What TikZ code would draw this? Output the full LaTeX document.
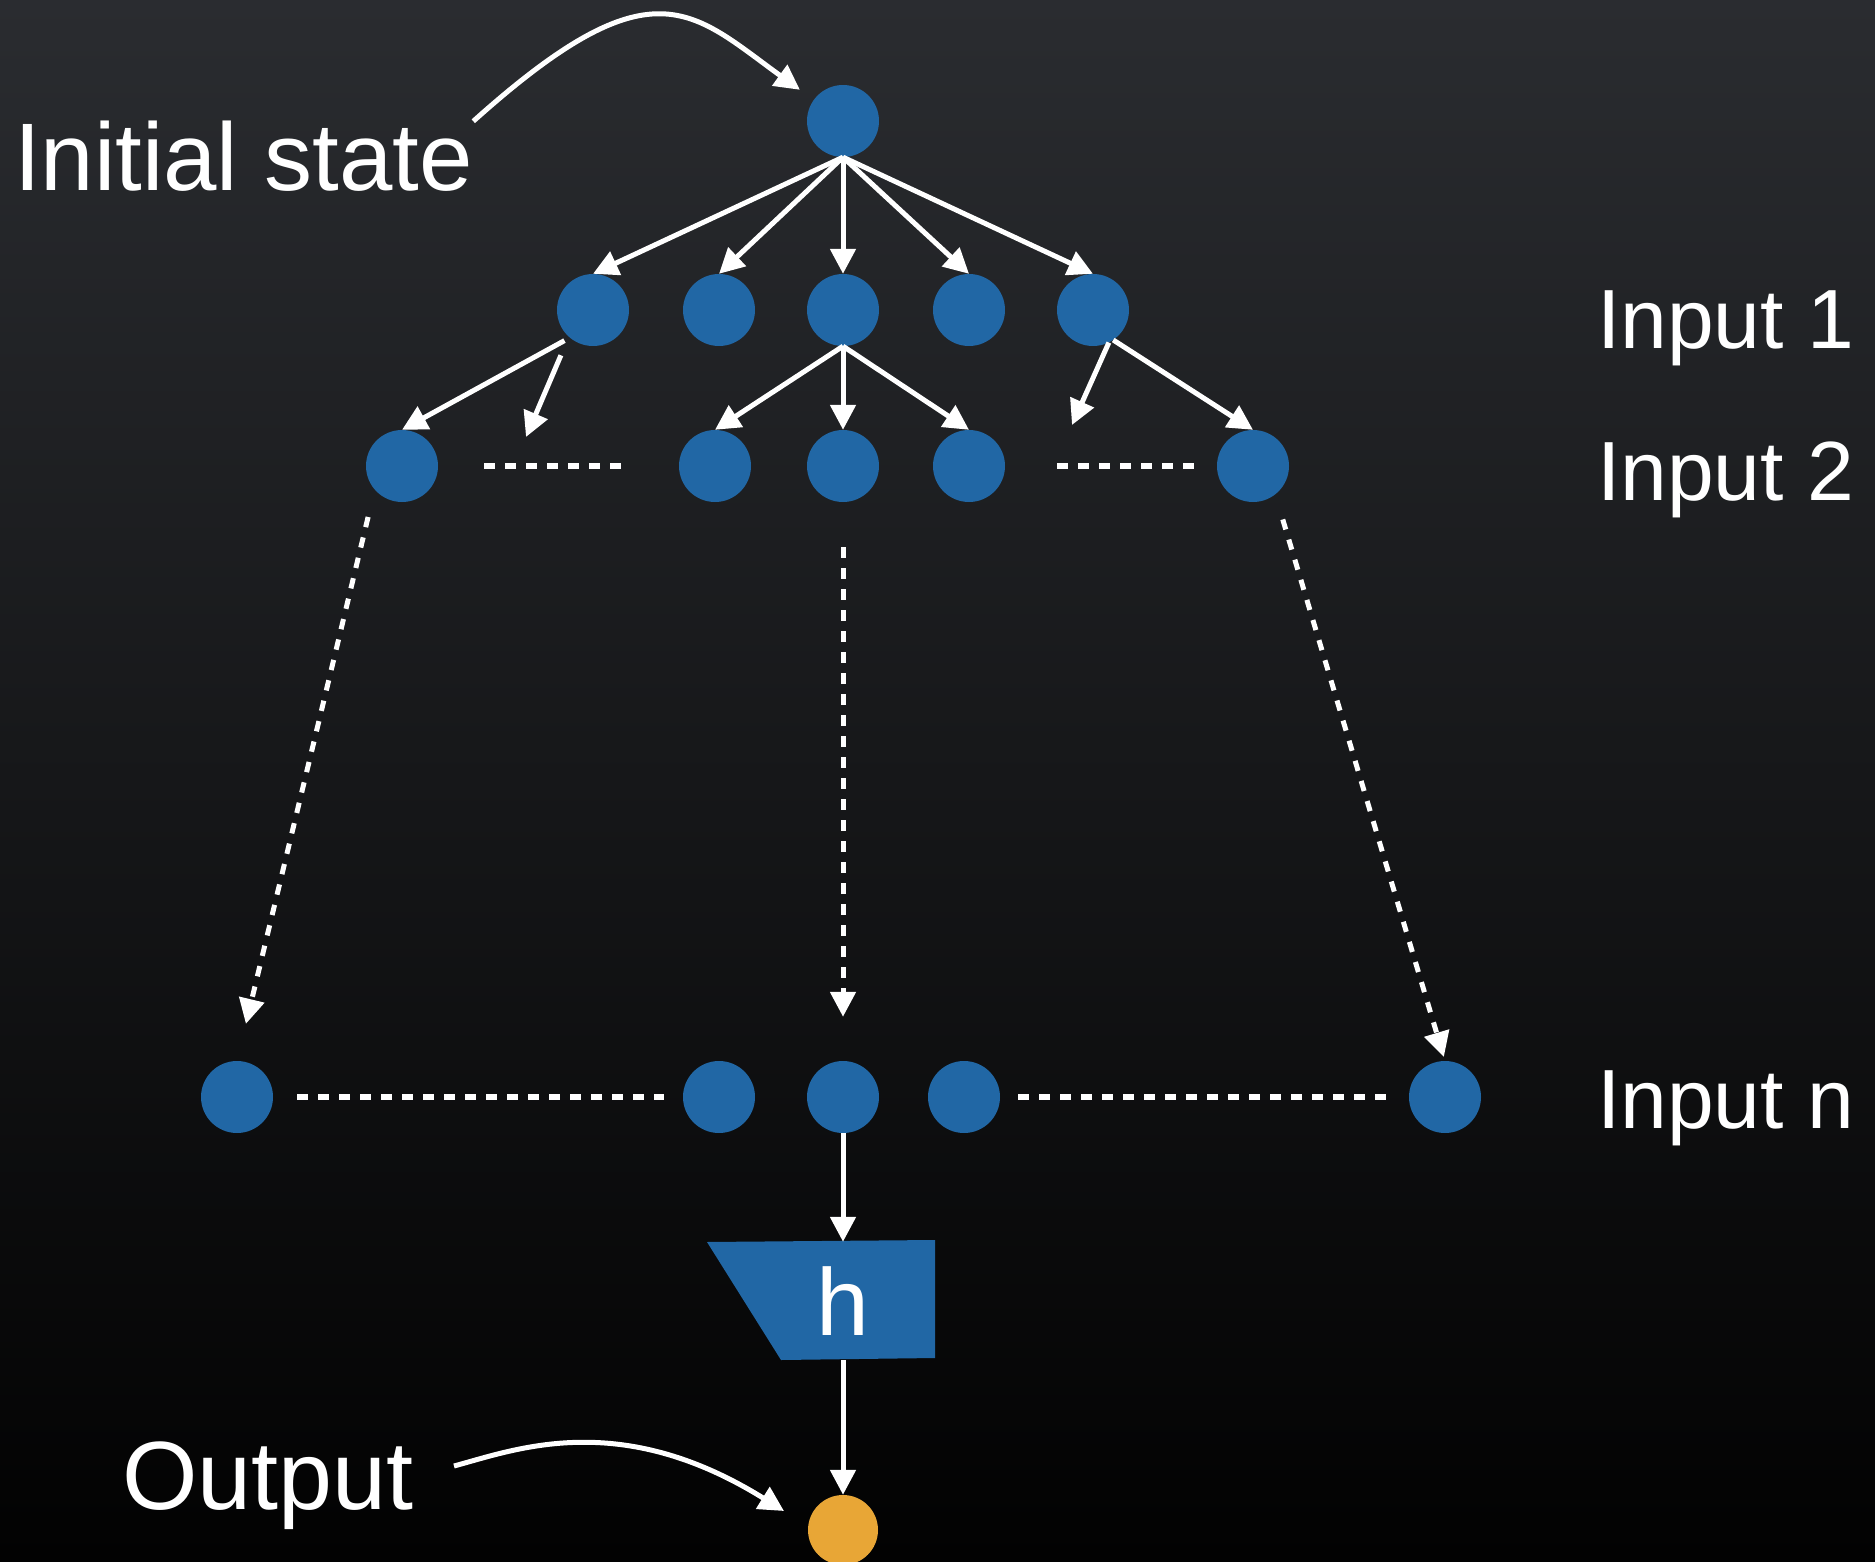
\documentclass[tikz,border=0pt]{standalone}
\usepackage{fontspec}
\setmainfont{Liberation Sans}
\usetikzlibrary{arrows.meta}
\definecolor{bgtop}{RGB}{42,44,48}
\definecolor{bgbot}{RGB}{2,2,2}
\definecolor{nodeblue}{RGB}{33,103,165}
\definecolor{outorange}{RGB}{232,166,54}
\begin{document}
\begin{tikzpicture}[x=1pt,y=-1pt,
  state/.style={circle, fill=nodeblue, minimum size=72pt, inner sep=0pt},
  result/.style={circle, fill=outorange, minimum size=70pt, inner sep=0pt},
  arr/.style={draw=white, line width=5pt, -{Triangle[length=25pt,width=25pt]}},
  darr/.style={arr, dash pattern=on 10.5pt off 10.5pt},
  dline/.style={draw=white, line width=5.5pt, dash pattern=on 11pt off 10pt},
  lbl/.style={text=white, inner sep=0pt, anchor=base west},
  bigfont/.style={font=\fontsize{96}{100}\selectfont},
  outfont/.style={font=\fontsize{97}{100}\selectfont},
  midfont/.style={font=\fontsize{84}{90}\selectfont},
]
% background
\shade[top color=bgtop, bottom color=bgbot] (0,0) rectangle (1875,1562);
\useasboundingbox (0,0) rectangle (1875,1562);

% states
\node[state] (root) at (843,121) {};
\node[state] (r1a) at (593,310) {};
\node[state] (r1b) at (719,310) {};
\node[state] (r1c) at (843,310) {};
\node[state] (r1d) at (969,310) {};
\node[state] (r1e) at (1093,310) {};
\node[state] (r2a) at (402,466) {};
\node[state] (r2b) at (715,466) {};
\node[state] (r2c) at (843,466) {};
\node[state] (r2d) at (969,466) {};
\node[state] (r2e) at (1253,466) {};
\node[state] (rna) at (237,1097) {};
\node[state] (rnb) at (719,1097) {};
\node[state] (rnc) at (843,1097) {};
\node[state] (rnd) at (964,1097) {};
\node[state] (rne) at (1445,1097) {};

% readout h
\fill[nodeblue] (707,1242) -- (935,1240) -- (935,1358) -- (781,1360) -- cycle;
\node[text=white, font=\fontsize{95}{100}\selectfont, minimum height=118pt, inner sep=0pt] (h) at (843,1301) {h};
\node[result] (out) at (843,1530) {};

% labels
\node[lbl, bigfont] (init) at (14,191) {Initial state};
\node[lbl, midfont] (in1) at (1597,349) {Input 1};
\node[lbl, midfont] (in2) at (1597,500) {Input 2};
\node[lbl, midfont] (inn) at (1597,1128) {Input n};
\node[lbl, outfont] (outlbl) at (122,1509) {Output};

% first step
\draw[arr] (root.south) -- (r1a.north);
\draw[arr] (root.south) -- (r1b.north);
\draw[arr] (root.south) -- (r1c.north);
\draw[arr] (root.south) -- (r1d.north);
\draw[arr] (root.south) -- (r1e.north);

% second step
\coordinate (f1) at (526,437);
\coordinate (f2) at (1072,425);
\draw[arr, shorten <=6pt] (r1a.230) -- (r2a.north);
\draw[arr, shorten <=20pt] (r1a.228) -- (f1);
\draw[arr] (r1c.south) -- (r2b.north);
\draw[arr] (r1c.south) -- (r2c.north);
\draw[arr] (r1c.south) -- (r2d.north);
\draw[arr] (r1e.296) -- (f2);
\draw[arr] (r1e.304) -- (r2e.north);

% elided states
\draw[dline, shorten <=46pt, shorten >=57pt] (r2a) -- (r2b);
\draw[dline, shorten <=52pt, shorten >=21pt] (r2d) -- (r2e);
\draw[dline, shorten <=24pt, shorten >=19pt] (rna) -- (rnb);
\draw[dline, shorten <=18pt, shorten >=18pt] (rnd) -- (rne);

% many steps
\draw[darr, shorten <=28pt, shorten >=38pt] (r2a.221) -- (rna.north);
\draw[darr, shorten <=45pt, shorten >=44pt] (r2c.south) -- (rnc.north);
\draw[darr, shorten <=26pt, shorten >=4pt] (r2e.308) -- (rne.north);

% readout
\draw[arr] (rnc.south) -- (h.north);
\draw[arr] (h.south) -- (out.north);

% pointers
\draw[arr, shorten >=17pt] (init.north east) .. controls (653,-40) and (691,11) .. (root);
\coordinate (oStart) at (454,1466);
\coordinate (oTip) at (784,1511);
\draw[arr] (oStart) .. controls (517,1449) and (620,1409) .. (oTip);
\end{tikzpicture}
\end{document}
